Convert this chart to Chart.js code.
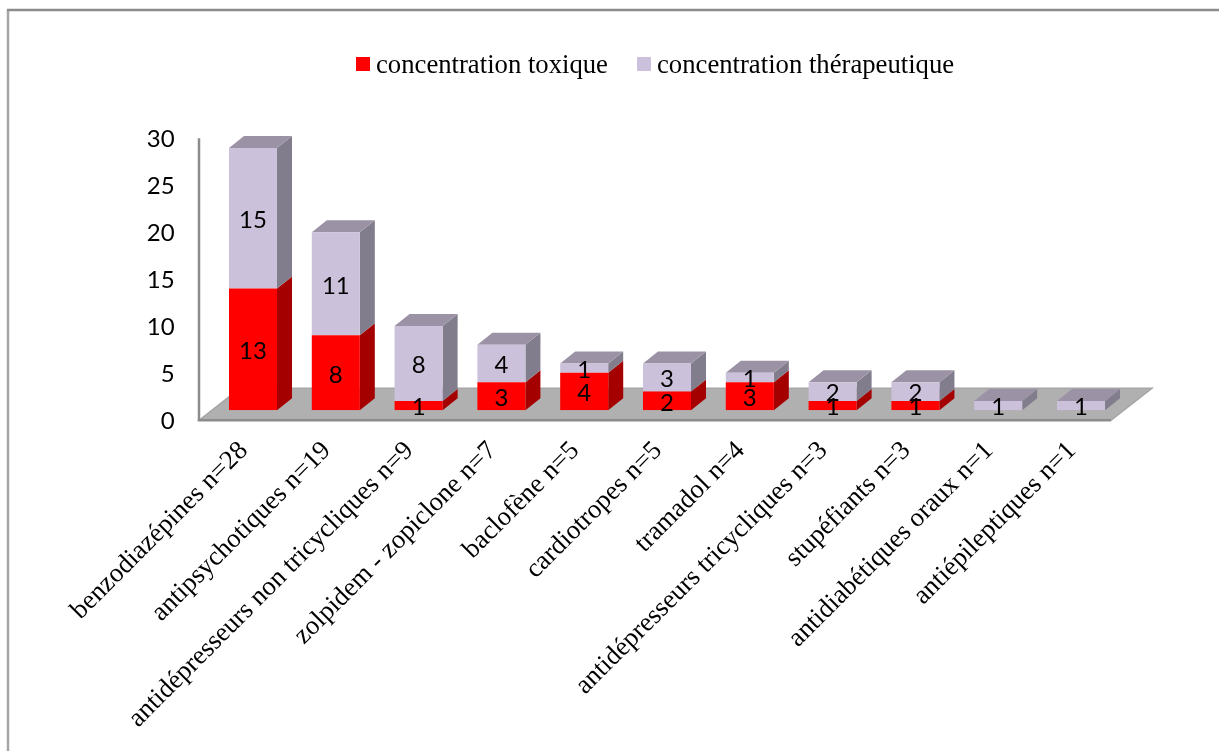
<!DOCTYPE html>
<html><head><meta charset="utf-8">
<style>html,body{margin:0;padding:0;background:#fff;overflow:hidden}#w{position:relative;width:1219px;height:751px}</style>
<script src="https://cdn.jsdelivr.net/npm/chart.js@4"></script>
</head><body><div id="w"><canvas id="c" width="1219" height="751"></canvas></div>
<script>
const categories = ["benzodiazépines n=28","antipsychotiques n=19","antidépresseurs non tricycliques n=9","zolpidem - zopiclone n=7","baclofène n=5","cardiotropes n=5","tramadol n=4","antidépresseurs tricycliques n=3","stupéfiants n=3","antidiabétiques oraux n=1","antiépileptiques n=1"];
const toxique = [13,8,1,3,4,2,3,1,1,0,0];
const therapeutique = [15,11,8,4,1,3,1,2,2,1,1];
const seriesNames = ["concentration toxique","concentration thérapeutique"];
const yTicks = [0,5,10,15,20,25,30];

const DX=15, DY=12;
const shades=[{side:'#a50000',top:'#c00000'},{side:'#827d8c',top:'#9b93a5'}];

const frame={id:'frame',beforeDraw(ch){
  const c=ch.ctx;c.save();c.lineWidth=2.5;
  c.strokeStyle='#a6a6a6';c.beginPath();c.moveTo(8,751);c.lineTo(8,10);c.stroke();
  c.strokeStyle='#8c8c8c';c.beginPath();c.moveTo(7,10);c.lineTo(1219,10);c.stroke();
  c.restore();
}};
const floor3d={id:'floor3d',beforeDatasetsDraw(ch){
  const c=ch.ctx,y0=ch.scales.y.getPixelForValue(0),y30=ch.scales.y.getPixelForValue(30);
  const front=y0+10,back=y0-22,lx=199,rx=1111;
  c.save();
  c.fillStyle='#b0b0b0';c.strokeStyle='#a6a6a6';c.lineWidth=1.5;
  c.beginPath();c.moveTo(lx,front);c.lineTo(lx+41,back);c.lineTo(rx+41,back);c.lineTo(rx,front);c.closePath();c.fill();c.stroke();
  c.strokeStyle='#8c8c8c';c.lineWidth=2.5;
  c.beginPath();c.moveTo(lx,y30+9);c.lineTo(lx,front);c.lineTo(rx,front);c.stroke();
  const n=ch.data.labels.length;
  for(let i=0;i<n;i++){
    let topDs=-1;
    ch.data.datasets.forEach((d,k)=>{ if(d.data[i]>0) topDs=k; });
    ch.data.datasets.forEach((d,k)=>{
      if(!(d.data[i]>0)) return;
      const e=ch.getDatasetMeta(k).data[i],r=e.x+e.width/2,l=e.x-e.width/2;
      c.fillStyle=shades[k].side;
      c.beginPath();c.moveTo(r,e.base);c.lineTo(r+DX,e.base-DY);c.lineTo(r+DX,e.y-DY);c.lineTo(r,e.y);c.closePath();c.fill();
      if(k===topDs){
        c.fillStyle=shades[k].top;
        c.beginPath();c.moveTo(l,e.y);c.lineTo(l+DX,e.y-DY);c.lineTo(r+DX,e.y-DY);c.lineTo(r,e.y);c.closePath();c.fill();
      }
    });
  }
  c.restore();
}};
const valueLabels={id:'valueLabels',afterDatasetsDraw(ch){
  const c=ch.ctx;c.save();c.font='24px Lato, "Open Sans", sans-serif';c.fillStyle='#000';c.textAlign='center';c.textBaseline='middle';
  ch.data.datasets.forEach((d,k)=>{
    ch.getDatasetMeta(k).data.forEach((e,i)=>{
      if(d.data[i]>0) c.fillText(String(d.data[i]),e.x,(e.y+e.base)/2+2);
    });
  });
  c.restore();
}};
const legend3d={id:'legend3d',afterDraw(ch){
  const c=ch.ctx,xs=[356,637],tx=[376,657];
  c.save();c.font='26.7px "Liberation Serif", serif';c.textBaseline='middle';c.textAlign='left';
  ch.data.datasets.forEach((d,k)=>{
    c.fillStyle=d.backgroundColor;c.fillRect(xs[k],57,14,14);
    c.fillStyle='#000';c.fillText(d.label,tx[k],65.5);
  });
  c.restore();
}};

new Chart(document.getElementById('c'),{
  type:'bar',
  data:{labels:categories,datasets:[
    {label:seriesNames[0],data:toxique,backgroundColor:'#ff0000'},
    {label:seriesNames[1],data:therapeutique,backgroundColor:'#ccc1da'}
  ]},
  plugins:[frame,floor3d,valueLabels,legend3d],
  options:{
    responsive:false,animation:false,
    layout:{padding:{left:0,right:96.6,top:129.2,bottom:0}},
    plugins:{legend:{display:false},tooltip:{enabled:false}},
    datasets:{bar:{barPercentage:0.58,categoryPercentage:1}},
    scales:{
      x:{stacked:true,grid:{display:false},border:{display:false},
        afterFit(s){s.height=340.7;},
        ticks:{autoSkip:false,maxRotation:45,minRotation:45,padding:17,labelOffset:-9,color:'#000',font:{family:'"Liberation Serif", serif',size:26.7}}},
      y:{stacked:true,min:0,max:30,grid:{display:false},border:{display:false},
        afterFit(s){s.width=211.6;},
        afterBuildTicks(s){s.ticks=yTicks.map(v=>({value:v}));},
        ticks:{padding:29,labelOffset:10.5,color:'#000',font:{family:'Lato, "Open Sans", sans-serif',size:24}}}
    }
  }
});
</script></body></html>
